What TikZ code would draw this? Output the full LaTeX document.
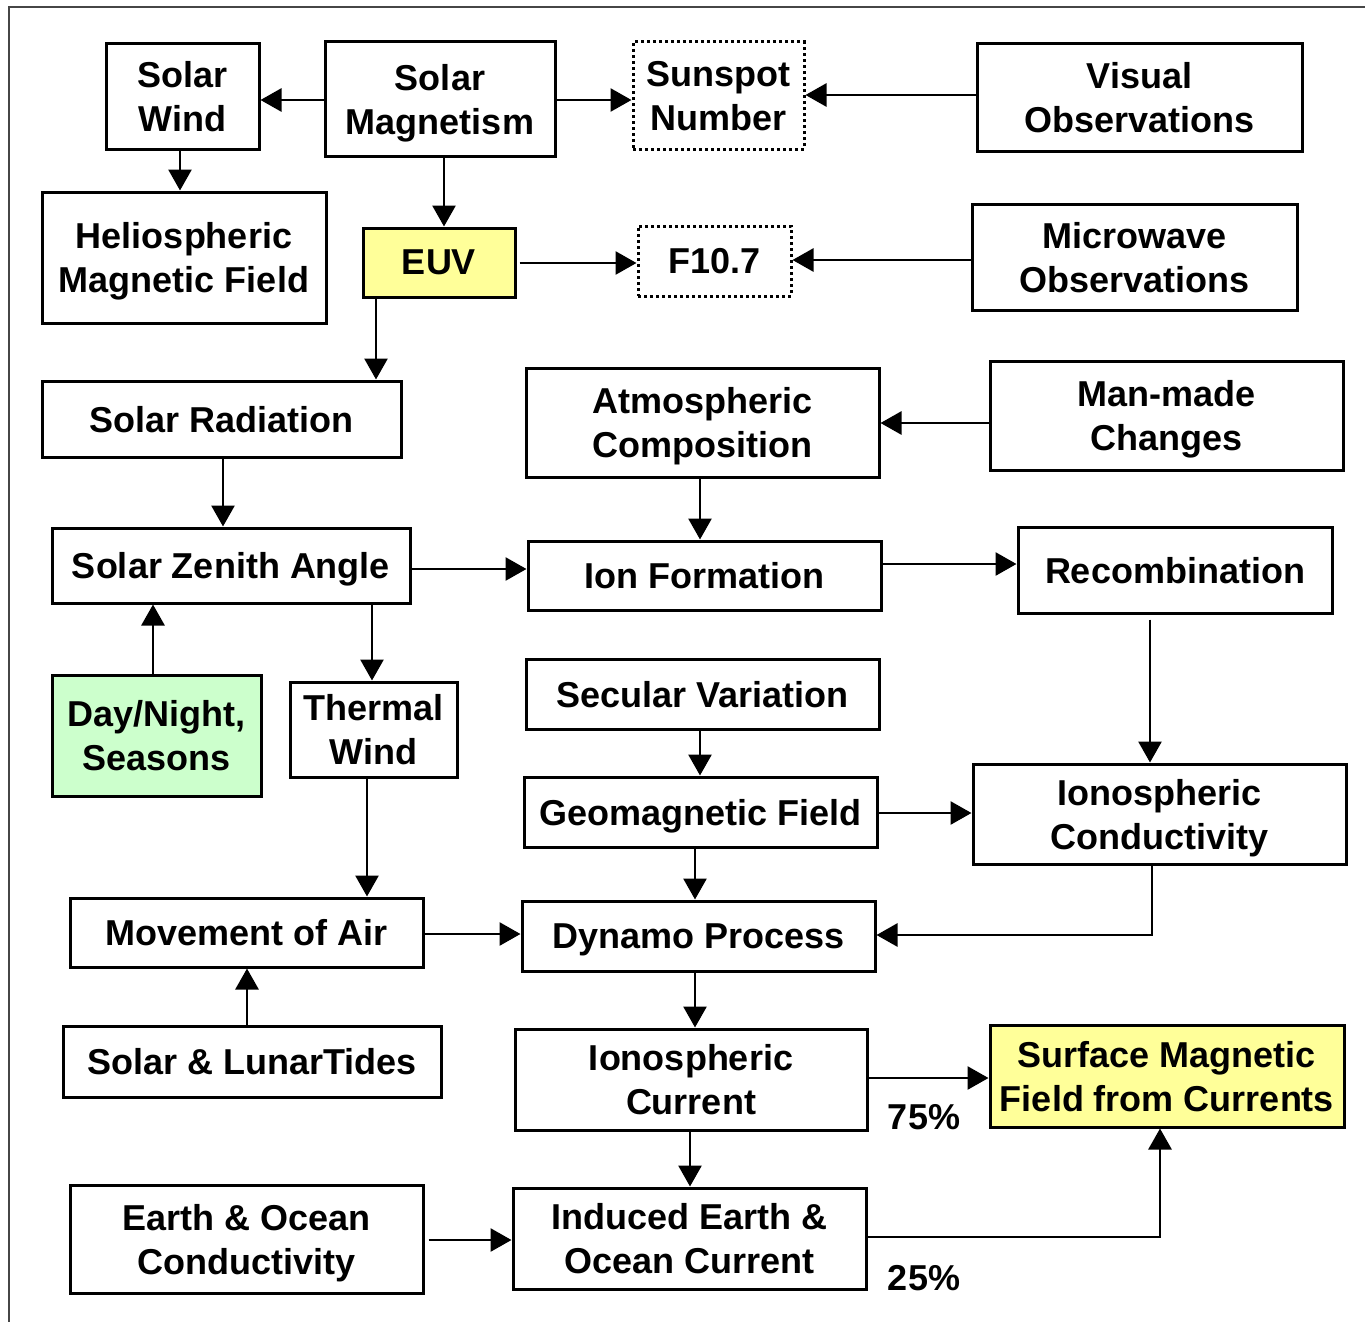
\documentclass[tikz,border=0pt]{standalone}
\usepackage{fontspec}
\setmainfont{Liberation Sans}
\usetikzlibrary{arrows.meta}
\definecolor{boxyellow}{RGB}{255,255,153}
\definecolor{boxgreen}{RGB}{204,255,204}
\definecolor{framegray}{RGB}{70,70,70}
\begin{document}
\begin{tikzpicture}[x=1pt,y=-1pt,
  box/.style={draw, line width=3pt, inner sep=0pt, align=center, text depth=0pt,
    font=\fontsize{36}{44}\selectfont\bfseries},
  dotbox/.style={box, dash pattern=on 3pt off 3pt},
  arr/.style={line width=2.8pt, -{Triangle[length=21pt,width=23pt]}},
  pct/.style={font=\fontsize{36}{44}\selectfont\bfseries, inner sep=0pt}]
\useasboundingbox (0,0) rectangle (1365,1322);
\draw[line width=2pt, framegray] (9,1322) -- (9,7) -- (1365,7);

% nodes
\node[box, minimum width=153pt, minimum height=105pt] (SW) at (182.5,96.5) {Solar\\Wind};
\node[box, minimum width=230pt, minimum height=114pt] (SM) at (440,99) {Solar\\Magnetism};
\node[dotbox, minimum width=171pt, minimum height=107pt] (SN) at (718.5,95.5) {Sunspot\\Number};
\node[box, minimum width=325pt, minimum height=107pt] (VO) at (1139.5,97.5) {Visual\\Observations};
\node[box, minimum width=284pt, minimum height=131pt] (HMF) at (184,257.5) {Heliospheric\\Magnetic Field};
\node[box, fill=boxyellow, minimum width=152pt, minimum height=69pt] (EUV) at (439,262.5) {EUV};
\node[dotbox, minimum width=153pt, minimum height=70pt] (F107) at (714.5,261) {F10.7};
\node[box, minimum width=325pt, minimum height=106pt] (MO) at (1134.5,257) {Microwave\\Observations};
\node[box, minimum width=359pt, minimum height=76pt] (SR) at (221.5,419) {Solar Radiation};
\node[box, minimum width=353pt, minimum height=109pt] (AC) at (702.5,422.5) {Atmospheric\\Composition};
\node[box, minimum width=353pt, minimum height=109pt] (MM) at (1166.5,415.5) {Man-made\\Changes};
\node[box, minimum width=358pt, minimum height=75pt] (SZA) at (231,565.5) {Solar Zenith Angle};
\node[box, minimum width=353pt, minimum height=69pt] (IF) at (704.5,575.5) {Ion Formation};
\node[box, minimum width=314pt, minimum height=86pt] (RC) at (1175,570) {Recombination};
\node[box, fill=boxgreen, minimum width=209pt, minimum height=121pt] (DN) at (156.5,735.5) {Day/Night,\\Seasons};
\node[box, minimum width=167pt, minimum height=95pt] (TW) at (373.5,729.5) {Thermal\\Wind};
\node[box, minimum width=353pt, minimum height=70pt] (SV) at (702.5,694) {Secular Variation};
\node[box, minimum width=353pt, minimum height=70pt] (GF) at (700.5,812) {Geomagnetic Field};
\node[box, minimum width=373pt, minimum height=100pt] (IC) at (1159.5,814) {Ionospheric\\Conductivity};
\node[box, minimum width=353pt, minimum height=69pt] (MA) at (246.5,932.5) {Movement of Air};
\node[box, minimum width=353pt, minimum height=70pt] (DP) at (698.5,936) {Dynamo Process};
\node[box, minimum width=378pt, minimum height=71pt] (ST) at (252,1061.5) {Solar \& LunarTides};
\node[box, minimum width=352pt, minimum height=101pt] (ICU) at (691,1079.5) {Ionospheric\\Current};
\node[box, fill=boxyellow, minimum width=354pt, minimum height=102pt] (SMF) at (1167,1076) {Surface Magnetic\\Field from Currents};
\node[box, minimum width=353pt, minimum height=108pt] (EOC) at (246.5,1239) {Earth \& Ocean\\Conductivity};
\node[box, minimum width=353pt, minimum height=101pt] (IEOC) at (689.5,1238.5) {Induced Earth \&\\Ocean Current};
\node[pct] (P75) at (924,1117) {75\%};
\node[pct] (P25) at (924,1278) {25\%};

% connectors
\draw[arr] (SM.west |- 0,100) -- (SW.east |- 0,100);
\draw[arr] (SW.south -| 180,0) -- (HMF.north -| 180,0);
\draw[arr] (SM.east |- 0,100) -- (SN.west |- 0,100);
\draw[arr] (VO.west |- 0,95) -- (SN.east |- 0,95);
\draw[arr] (SM.south -| 444,0) -- (EUV.north -| 444,0);
\draw[arr] ([xshift=3pt]EUV.east |- 0,263) -- (F107.west |- 0,263);
\draw[arr] (MO.west |- 0,260) -- (F107.east |- 0,260);
\draw[arr] (EUV.south -| 376,0) -- (SR.north -| 376,0);
\draw[arr] (SR.south -| 223,0) -- (SZA.north -| 223,0);
\draw[arr] (MM.west |- 0,423) -- (AC.east |- 0,423);
\draw[arr] (AC.south -| 700,0) -- (IF.north -| 700,0);
\draw[arr] (SZA.east |- 0,569) -- (IF.west |- 0,569);
\draw[arr] (IF.east |- 0,564) -- (RC.west |- 0,564);
\draw[arr] ([yshift=-5pt]RC.south -| 1150,0) -- (IC.north -| 1150,0);
\draw[arr] (DN.north -| 153,0) -- (SZA.south -| 153,0);
\draw[arr] (SZA.south -| 372,0) -- (TW.north -| 372,0);
\draw[arr] (TW.south -| 367,0) -- (MA.north -| 367,0);
\draw[arr] (SV.south -| 700,0) -- (GF.north -| 700,0);
\draw[arr] (GF.east |- 0,813) -- (IC.west |- 0,813);
\draw[arr] (GF.south -| 695,0) -- (DP.north -| 695,0);
\draw[arr] (IC.south -| 1152,0) |- (DP.east |- 0,935);
\draw[arr] (MA.east |- 0,934) -- (DP.west |- 0,934);
\draw[arr] (ST.north -| 247,0) -- (MA.south -| 247,0);
\draw[arr] (DP.south -| 695,0) -- (ICU.north -| 695,0);
\draw[arr] (ICU.east |- 0,1078) -- (SMF.west |- 0,1078);
\draw[arr] (ICU.south -| 690,0) -- (IEOC.north -| 690,0);
\draw[arr] ([xshift=4pt]EOC.east |- 0,1240) -- (IEOC.west |- 0,1240);
\draw[arr] (IEOC.east |- 0,1237) -| (SMF.south -| 1160,0);
\end{tikzpicture}
\end{document}
